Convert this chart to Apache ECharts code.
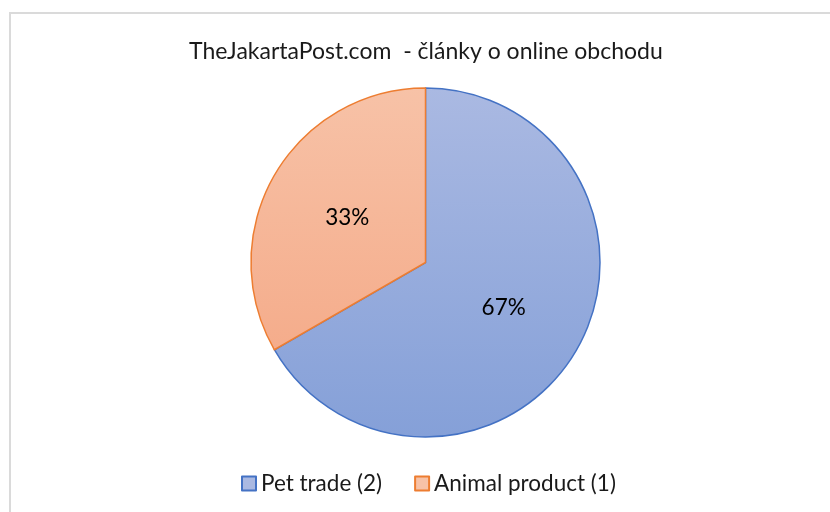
<!DOCTYPE html>
<html>
<head>
<meta charset="utf-8">
<script src="https://cdn.jsdelivr.net/npm/echarts@6/dist/echarts.min.js"></script>
<style>
  html, body { margin: 0; padding: 0; background: #fff; }
  #chart { width: 830px; height: 512px; }
</style>
</head>
<body>
<div id="chart"></div>
<script>
const categories = ['Pet trade (2)', 'Animal product (1)'];
const counts = [2, 1];
const fillTop = ['#aab9e2', '#f7c2a7'];
const fillBottom = ['#85a0d8', '#f4a582'];
const borders = ['#4472c4', '#ed7d31'];

const chart = echarts.init(document.getElementById('chart'));

const pieTop = 88, pieBottom = 437;

const option = {
    animation: false,
    title: {
        text: 'TheJakartaPost.com  - články o online obchodu',
        left: 184,
        top: 35,
        textStyle: {
            fontFamily: 'Lato',
            fontSize: 23,
            fontWeight: 'normal',
            color: '#1a1a1a'
        }
    },
    legend: {
        left: 236,
        top: 467,
        icon: 'rect',
        itemWidth: 14,
        itemHeight: 14,
        itemGap: 32,
        textStyle: {
            fontFamily: 'Lato',
            fontSize: 22.5,
            color: '#1a1a1a'
        },
        data: categories
    },
    graphic: [
        {
            type: 'rect',
            shape: { x: 10, y: 13, width: 900, height: 600 },
            style: { fill: 'none', stroke: '#dadada', lineWidth: 2 },
            silent: true
        }
    ],
    series: [
        {
            name: 'články',
            type: 'pie',
            center: [425.5, 262.5],
            radius: [0, 174.5],
            startAngle: 90,
            clockwise: true,
            percentPrecision: 0,
            label: {
                show: true,
                position: 'inside',
                formatter: '{d}%',
                fontFamily: 'Lato',
                fontSize: 22.5,
                color: '#000'
            },
            labelLine: { show: false },
            emphasis: { disabled: true },
            data: categories.map((name, i) => ({
                name: name,
                value: counts[i],
                itemStyle: {
                    color: {
                        type: 'linear',
                        global: true,
                        x: 0, y: pieTop, x2: 0, y2: pieBottom,
                        colorStops: [
                            { offset: 0, color: fillTop[i] },
                            { offset: 1, color: fillBottom[i] }
                        ]
                    },
                    borderColor: borders[i],
                    borderWidth: 1.5
                }
            }))
        }
    ]
};

chart.setOption(option);
</script>
</body>
</html>
